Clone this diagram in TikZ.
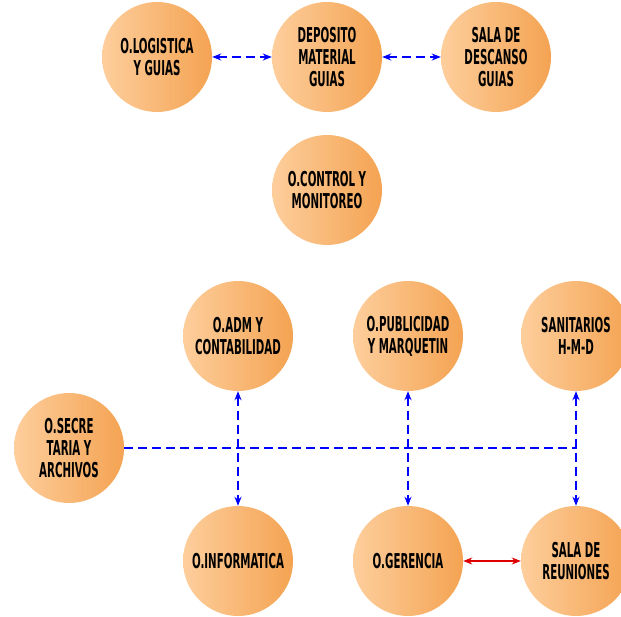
\documentclass[tikz,border=0pt]{standalone}
\usepackage{fontspec}
\usetikzlibrary{arrows.meta}
\newfontfamily\lblfont{DejaVu Sans}[FakeStretch=0.5]
\definecolor{orlight}{RGB}{253,206,156}
\definecolor{ordark}{RGB}{244,163,82}
\definecolor{arblue}{RGB}{0,0,255}
\definecolor{arred}{RGB}{222,0,0}
\tikzset{
  room/.style={circle, minimum size=110pt, inner sep=0pt, left color=orlight, right color=ordark, draw=none,
    align=center, text=black, font=\lblfont\bfseries\fontsize{20.5}{22}\selectfont},
  link/.style={arblue, line width=1.6pt, dash pattern=on 9pt off 5pt},
  dlink/.style={link, {Stealth[length=9pt,width=7pt]}-{Stealth[length=9pt,width=7pt]}},
  rlink/.style={arred, line width=2.2pt, {Stealth[length=9pt,width=7pt]}-{Stealth[length=9pt,width=7pt]}}
}
\begin{document}
\begin{tikzpicture}[x=1pt,y=-1pt]
\useasboundingbox (0,0) rectangle (621,617);
\clip (0,0) rectangle (621,617);
\node[room] (log) at (157,57) {O.LOGISTICA\\Y GUIAS};
\node[room] (dep) at (327,57) {DEPOSITO\\MATERIAL\\GUIAS};
\node[room] (desc) at (496,57) {SALA DE\\DESCANSO\\GUIAS};
\node[room] (ctrl) at (327,190) {O.CONTROL Y\\MONITOREO};
\node[room] (adm) at (238,336) {O.ADM Y\\CONTABILIDAD};
\node[room] (pub) at (408,336) {O.PUBLICIDAD\\Y MARQUETIN};
\node[room] (san) at (576,336) {SANITARIOS\\H-M-D};
\node[room] (sec) at (69,448) {O.SECRE\\TARIA Y\\ARCHIVOS};
\node[room] (inf) at (238,561) {O.INFORMATICA};
\node[room] (ger) at (408,561) {O.GERENCIA};
\node[room] (reu) at (576,561) {SALA DE\\REUNIONES};
\coordinate (hend) at (577,448);
\draw[dlink] (log) -- (dep);
\draw[dlink] (dep) -- (desc);
\draw[link] (sec.east) -- (hend);
\draw[dlink] (adm) -- (inf);
\draw[dlink] (pub) -- (ger);
\draw[dlink] (san) -- (reu);
\draw[rlink] (ger) -- (reu);
\end{tikzpicture}
\end{document}
